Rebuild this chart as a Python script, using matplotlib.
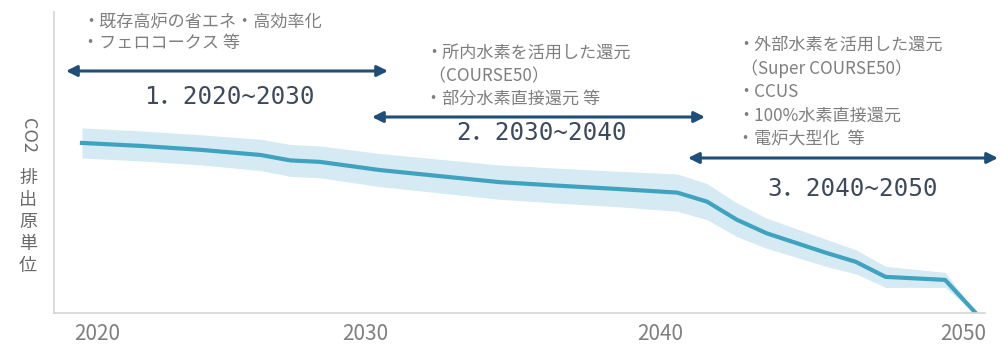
import matplotlib
matplotlib.use("Agg")
import matplotlib.pyplot as plt
import matplotlib.transforms as mtransforms
import numpy as np

plt.rcParams["font.family"] = ["Noto Sans CJK JP", "DejaVu Sans"]

# CO2 intensity pathway (index, arbitrary units) with uncertainty band
YEARS = [2020, 2022, 2024, 2026, 2027, 2028, 2030, 2032, 2034, 2036,
         2038, 2040, 2041, 2042, 2043, 2045, 2046, 2047, 2049, 2050]
INTENSITY = [56.5, 55.5, 54.2, 52.5, 50.7, 50.2, 47.5, 45.5, 43.5, 42.3,
             41.2, 40.0, 37.0, 31.0, 26.5, 20.0, 17.0, 12.0, 11.0, 0.3]
SPREAD = [5.0, 5.0, 5.0, 5.2, 5.3, 5.3, 5.5, 5.6, 5.7, 5.8,
          5.9, 6.2, 6.0, 5.6, 5.0, 4.5, 4.0, 3.5, 2.5, 0.3]
XTICKS = [2020, 2030, 2040, 2050]

PERIOD_LABELS = ["1．2020~2030", "2．2030~2040", "3．2040~2050"]
MEASURES = [
    ["・既存高炉の省エネ・高効率化", "・フェロコークス 等"],
    ["・所内水素を活用した還元", " （COURSE50）", "・部分水素直接還元 等"],
    ["・外部水素を活用した還元", " （Super COURSE50）", "・CCUS",
     "・100%水素直接還元", "・電炉大型化  等"],
]

LINE_C = "#3fa3c0"
BAND_C = "#d6eaf3"
ARROW_C = "#1f4e79"
TEXT_C = "#7f7f7f"
LABEL_C = "#3d4a5c"

W, H = 1000, 344
fig = plt.figure(figsize=(W / 100, H / 100), dpi=100)
ax = fig.add_axes([54 / W, 1 - 313 / H, (985 - 54) / W, (313 - 12) / H])

years = np.array(YEARS, dtype=float)
vals = np.array(INTENSITY)
spread = np.array(SPREAD)
ax.fill_between(years, vals - spread, vals + spread, color=BAND_C, lw=0)
ax.plot(years, vals, color=LINE_C, lw=3, solid_joinstyle="round")

ax.set_xlim(2019.06, 2050.34)
ax.set_ylim(0, 100)
ax.set_xticks(XTICKS)
ax.set_xticklabels([str(y) for y in XTICKS], fontsize=15, color="#808080")
ax.tick_params(axis="x", length=0, pad=7)
ax.set_yticks([])
# nudge the year labels sideways a little (pixels)
for lbl, dx in zip(ax.get_xticklabels(), [15, -14, -17, -12]):
    lbl.set_transform(lbl.get_transform() +
                      mtransforms.ScaledTranslation(dx / 100, 0, fig.dpi_scale_trans))
for s in ("top", "right"):
    ax.spines[s].set_visible(False)
for s in ("left", "bottom"):
    ax.spines[s].set_color("#d4d4d4")
    ax.spines[s].set_linewidth(1.2)


def fx(px):
    return px / W


def fy(py):
    return 1 - py / H


# y label: rotated "CO2" followed by upright kanji stacked vertically
fig.text(fx(28), fy(135), "CO2", rotation=-90, ha="center", va="center",
         fontsize=13, color="#6a6a6a")
for i, ch in enumerate("排出原単位"):
    fig.text(fx(28), fy(178 + i * 22), ch, ha="center", va="center",
             fontsize=13, color="#6a6a6a")

# period arrows (pixel spans) and their labels
arrows = [(66, 388, 71), (372, 705, 117), (688, 998, 158)]
label_pos = [(229, 97), (542, 133), (853, 189)]
for (x0, x1, y), (lx, ly), lab in zip(arrows, label_pos, PERIOD_LABELS):
    ax.annotate("", xy=(fx(x1), fy(y)), xytext=(fx(x0), fy(y)),
                xycoords="figure fraction", textcoords="figure fraction",
                arrowprops=dict(arrowstyle="<|-|>", color=ARROW_C, lw=2.2,
                                mutation_scale=16, shrinkA=0, shrinkB=0),
                annotation_clip=False)
    fig.text(fx(lx), fy(ly), lab, ha="center", va="center", fontsize=17.5,
             color=LABEL_C, family=["DejaVu Sans Mono", "Noto Sans CJK JP"])

# measure bullets for each period
blocks = [(82, 21, 22), (425, 53, 23), (737, 45, 23.5)]
for (x, y0, step), lines in zip(blocks, MEASURES):
    for i, t in enumerate(lines):
        fig.text(fx(x), fy(y0 + i * step), t, ha="left", va="center",
                 fontsize=12.3, color=TEXT_C)

fig.savefig("out.png", dpi=100, facecolor="white")
